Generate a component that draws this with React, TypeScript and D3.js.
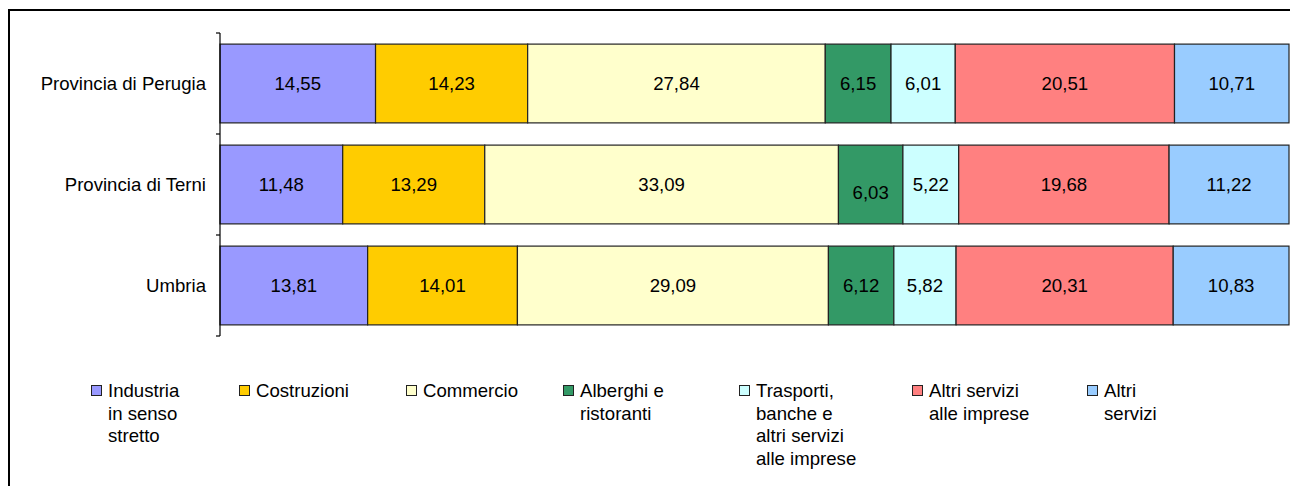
import React from "react";
import * as d3 from "d3";

const categories = ["Provincia di Perugia", "Provincia di Terni", "Umbria"];
const seriesNames = [
  "Industria\nin senso\nstretto",
  "Costruzioni",
  "Commercio",
  "Alberghi e\nristoranti",
  "Trasporti,\nbanche e\naltri servizi\nalle imprese",
  "Altri servizi\nalle imprese",
  "Altri\nservizi",
];
const seriesColors = ["#9999FF", "#FFCC00", "#FFFFCC", "#339966", "#CCFFFF", "#FF8080", "#99CCFF"];
const values = [
  [14.55, 14.23, 27.84, 6.15, 6.01, 20.51, 10.71],
  [11.48, 13.29, 33.09, 6.03, 5.22, 19.68, 11.22],
  [13.81, 14.01, 29.09, 6.12, 5.82, 20.31, 10.83],
];

const W = 1290;
const H = 486;
const plotLeft = 220;
const plotRight = 1289;
const plotTop = 33;
const plotBottom = 336;
const legendX = [91, 239, 406, 563, 739, 912, 1087];
const font = "'Liberation Sans', Arial, sans-serif";
const fs = 18.6;

export default function App() {
  const keys = seriesNames.map((_, i) => String(i));
  const rows = values.map((v, r) => {
    const o: any = { cat: categories[r] };
    v.forEach((x, i) => (o[String(i)] = x));
    return o;
  });
  const stacked = d3.stack<any>().keys(keys).offset(d3.stackOffsetExpand)(rows);
  const x = d3.scaleLinear().domain([0, 1]).range([plotLeft, plotRight]);
  const y = d3
    .scaleBand()
    .domain(categories)
    .range([plotTop, plotBottom])
    .paddingInner(0.22)
    .paddingOuter(0.11);
  const step = y.step();
  const tickYs = d3.range(categories.length + 1).map((i) => plotTop + i * step);

  // label offset to avoid overlap (as in reference)
  const labelDy = (s: number, r: number) => (s === 3 && r === 1 ? 8 : 0);

  return (
    <svg width={W} height={H} style={{ position: "absolute", left: 0, top: 0 }} fontFamily={font}>
      <rect x={0} y={0} width={W} height={H} fill="#fff" />
      <rect x={9} y={10} width={W + 20} height={H + 20} fill="none" stroke="#000" strokeWidth={2} />
      {stacked.map((layer, s) => (
        <g key={s}>
          {layer.map((d, r) => {
            const x0 = x(d[0]);
            const x1 = x(d[1]);
            const yy = y(categories[r])!;
            const bh = y.bandwidth();
            return (
              <g key={r}>
                <rect
                  x={x0}
                  y={yy}
                  width={x1 - x0}
                  height={bh}
                  fill={seriesColors[s]}
                  stroke="#222"
                  strokeWidth={1.2}
                />
                <text
                  x={(x0 + x1) / 2}
                  y={yy + bh / 2 + labelDy(s, r)}
                  dy="0.36em"
                  textAnchor="middle"
                  fontSize={fs}
                  fill="#000"
                >
                  {values[r][s].toFixed(2).replace(".", ",")}
                </text>
              </g>
            );
          })}
        </g>
      ))}
      <line x1={plotLeft} x2={plotLeft} y1={plotTop} y2={plotBottom} stroke="#000" strokeWidth={1.2} />
      {tickYs.map((t, i) => (
        <line key={i} x1={plotLeft - 4} x2={plotLeft} y1={t} y2={t} stroke="#000" strokeWidth={1.2} />
      ))}
      {categories.map((c) => (
        <text
          key={c}
          x={206}
          y={y(c)! + y.bandwidth() / 2}
          dy="0.36em"
          textAnchor="end"
          fontSize={fs}
          fill="#000"
        >
          {c}
        </text>
      ))}
      {seriesNames.map((n, i) => (
        <g key={i}>
          <rect x={legendX[i] + 0.5} y={385.5} width={10} height={10} fill={seriesColors[i]} stroke="#222" strokeWidth={1} />
          <text x={legendX[i] + 17} y={397} fontSize={fs} fill="#000">
            {n.split("\n").map((line, j) => (
              <tspan key={j} x={legendX[i] + 17} dy={j === 0 ? 0 : 22.7}>
                {line}
              </tspan>
            ))}
          </text>
        </g>
      ))}
    </svg>
  );
}
